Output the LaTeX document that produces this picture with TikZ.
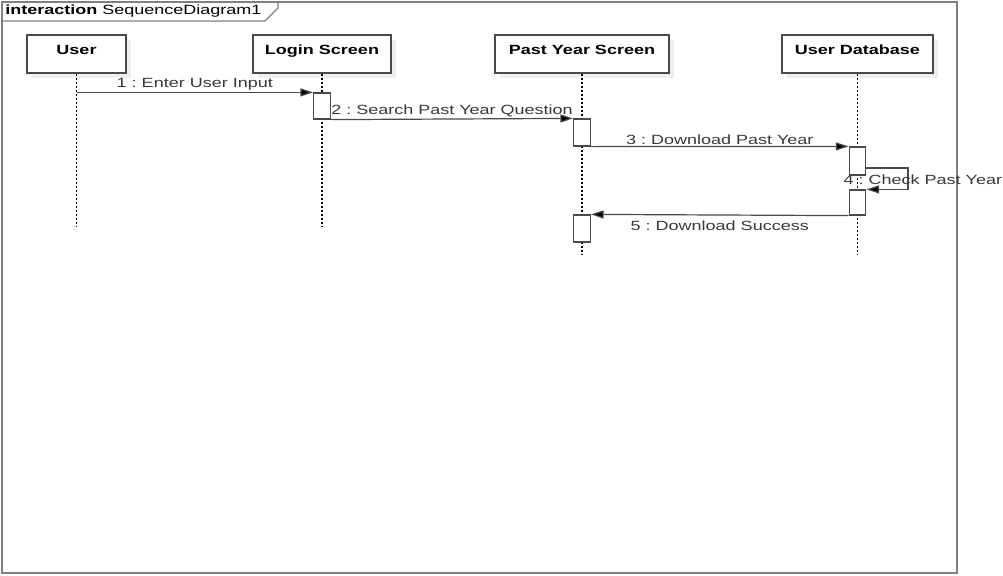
\documentclass[tikz,border=0pt]{standalone}
\usepackage{fontspec}
\setmainfont{Liberation Sans}[FakeStretch=1.35]
\usetikzlibrary{arrows.meta,positioning,calc,shadows}
\definecolor{LineGray}{HTML}{4A4A4A}
\definecolor{FrameGray}{HTML}{808080}
\definecolor{TextGray}{HTML}{383838}
\definecolor{ShadowGray}{HTML}{EEEEEE}
\frenchspacing

\begin{document}
\begin{tikzpicture}[x=0.75pt,y=-0.75pt,
  headbox/.style={draw=LineGray,fill=white,line width=0.9pt,minimum width=#1*0.75pt,minimum height=28.5pt,inner sep=0pt,
    drop shadow={shadow xshift=4pt,shadow yshift=-4pt,fill=ShadowGray,opacity=1}},
  headtext/.style={font=\bfseries\fontsize{10}{12}\selectfont,text=black,anchor=north,yshift=-4.5pt},
  actbox/.style={draw=LineGray,fill=white,line width=0.9pt,minimum width=12.5pt,minimum height=#1*0.75pt,inner sep=0pt},
  lifeline/.style={draw=black,line width=0.8pt,dash pattern=on 1.5pt off 1.5pt},
  msg/.style={-{Triangle[length=9.5pt,width=6pt,fill=black]},draw=LineGray,line width=0.9pt},
  msglabel/.style={font=\fontsize{10}{12}\selectfont,text=TextGray,inner sep=1pt}
]
\useasboundingbox (0,0) rectangle (1003,575);
% frame
\draw[FrameGray,line width=1.2pt] (2,2) rectangle (957,573);
\draw[FrameGray,line width=1pt] (2,21) -- (265,21) -- (278,8) -- (278,2);
\node[anchor=west,inner sep=0pt,font=\fontsize{10}{12}\selectfont] (frametitle) at (5,11.5) {\textbf{interaction} SequenceDiagram1};

% lifeline heads
\node[headbox=99] (user) at (76.5,54) {};
\node[headbox=138] (login) at (322,54) {};
\node[headbox=174] (pastyear) at (582,54) {};
\node[headbox=151] (database) at (857.5,54) {};
\node[headtext] at (user.north) {User};
\node[headtext] at (login.north) {Login Screen};
\node[headtext] at (pastyear.north) {Past Year Screen};
\node[headtext] at (database.north) {User Database};

% lifelines
\coordinate (userend) at (user.south |- 0,227);
\coordinate (loginend) at (login.south |- 0,227);
\coordinate (pastyearend) at (pastyear.south |- 0,255);
\coordinate (databaseend) at (database.south |- 0,255);
\draw[lifeline] (user.south) -- (userend);
\draw[lifeline] (login.south) -- (loginend);
\draw[lifeline] (pastyear.south) -- (pastyearend);
\draw[lifeline] (database.south) -- (databaseend);

% activations
\node[actbox=26] (act1) at (login.south |- 0,106) {};
\node[actbox=27] (act2) at (pastyear.south |- 0,132.5) {};
\node[actbox=28] (act3) at (database.south |- 0,161) {};
\node[actbox=25] (act4) at (database.south |- 0,202.5) {};
\node[actbox=27] (act5) at (pastyear.south |- 0,228.5) {};

% messages
\draw[msg] (user.south |- act1.north) -- (act1.north west)
  node[midway,above,msglabel] {1 : Enter User Input};
\draw[msg] (act1.south east) -- (act2.north west)
  node[midway,above,msglabel] {2 : Search Past Year Question};
\draw[msg] (act2.south east) -- (act3.north west)
  node[midway,above,msglabel] {3 : Download Past Year};
\coordinate (selfturn) at (908,168);
\draw[msg] (act3.east |- selfturn) -- (selfturn) |- (act4.north east);
\node[msglabel,anchor=west] (checklabel) at (842,180) {4 : Check Past Year};
\draw[msg] (act4.south west) -- (act5.north east)
  node[midway,below,msglabel,yshift=-3pt] {5 : Download Success};
\end{tikzpicture}
\end{document}
